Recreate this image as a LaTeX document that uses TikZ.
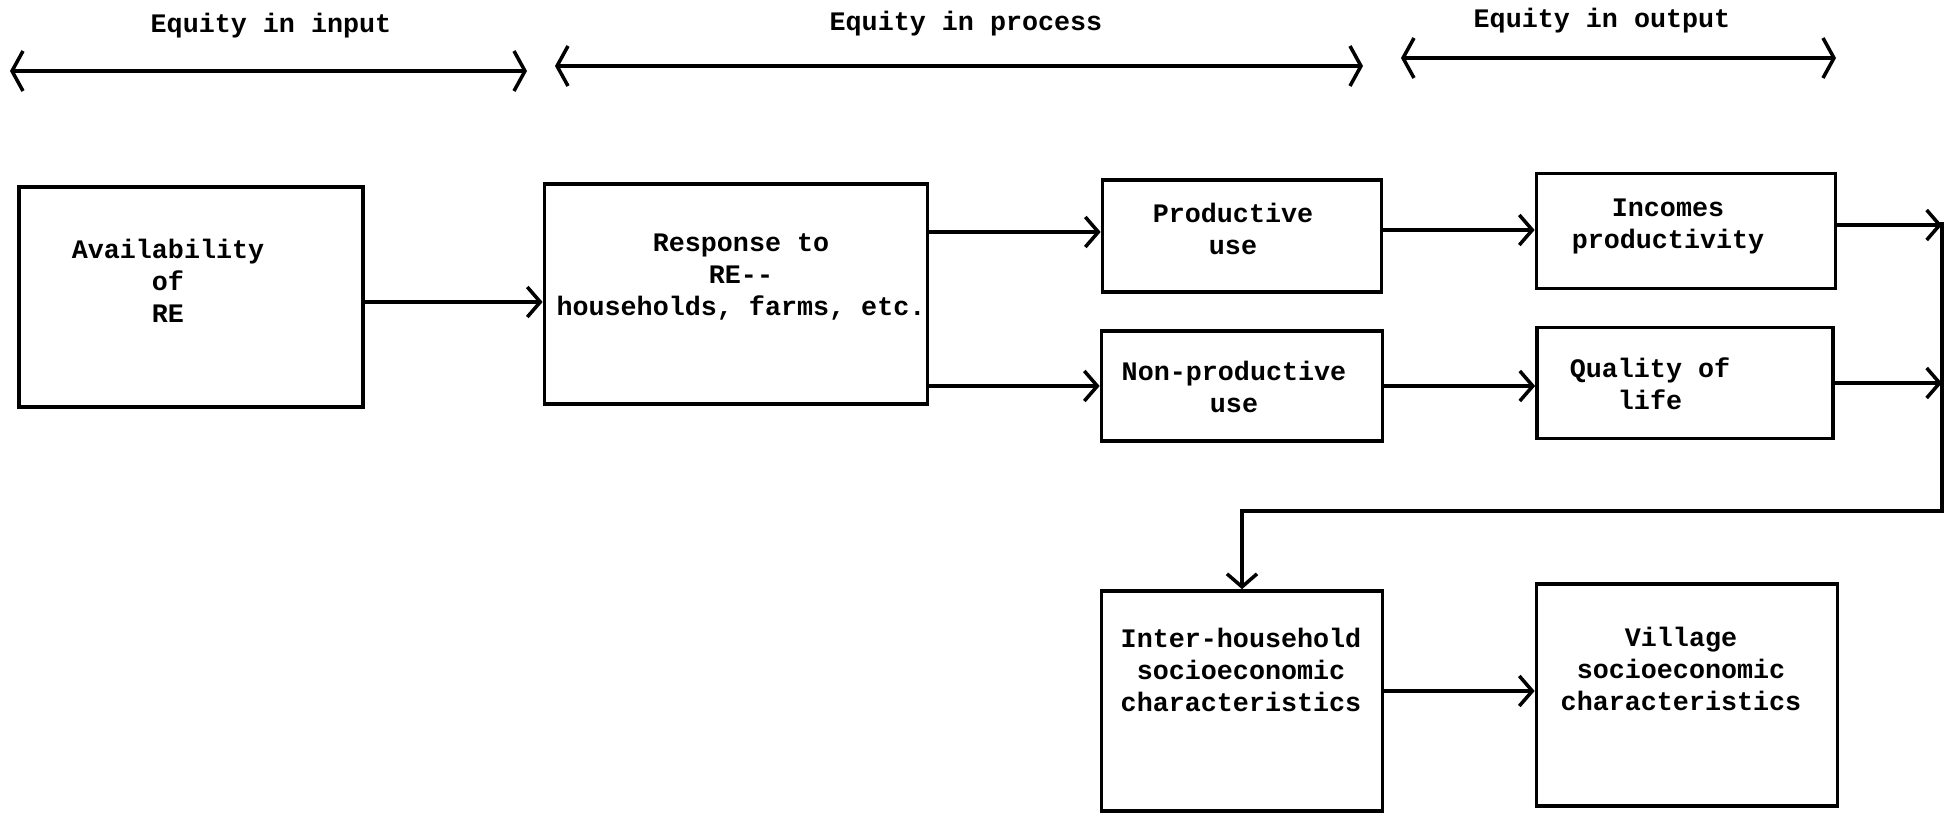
\documentclass[tikz,border=0pt]{standalone}
\usepackage{fontspec}
\setmonofont{Liberation Mono}
\usetikzlibrary{arrows.meta}

\begin{document}
\begin{tikzpicture}[x=0.01cm,y=-0.01cm,
  font=\ttfamily\bfseries\fontsize{7.6}{9.1}\selectfont,
  >={Straight Barb[length=1.3mm,width=3mm]},
  box/.style={draw,line width=1pt,inner sep=0pt},
  txt/.style={align=center,inner sep=0pt},
  conn/.style={->,line width=1pt},
  span/.style={<->,line width=1pt,>={Straight Barb[length=1.1mm,width=4mm]}}]
  \useasboundingbox (0,0) rectangle (1950,815);
  % equity spans along the top
  \coordinate (in-l) at (10,71);   \coordinate (in-r) at (527,71);
  \coordinate (pr-l) at (555,66);  \coordinate (pr-r) at (1363,66);
  \coordinate (out-l) at (1401,58); \coordinate (out-r) at (1836,58);
  \draw[span] (in-l) -- (in-r);
  \draw[span] (pr-l) -- (pr-r);
  \draw[span] (out-l) -- (out-r);
  \node[txt] (in-t) at (271,26) {Equity in input};
  \node[txt] (pr-t) at (966,24) {Equity in process};
  \node[txt] (out-t) at (1602,21) {Equity in output};
  % boxes
  \node[box,minimum width=3.44cm,minimum height=2.2cm] (avail) at (191,297) {};
  \node[box,minimum width=3.83cm,minimum height=2.2cm] (resp) at (736,294) {};
  \node[box,minimum width=2.79cm,minimum height=1.12cm] (prod) at (1242,236) {};
  \node[box,minimum width=2.81cm,minimum height=1.1cm] (nonprod) at (1242,386) {};
  \node[box,minimum width=2.99cm,minimum height=1.15cm] (inc) at (1686,231) {};
  \node[box,minimum width=2.96cm,minimum height=1.11cm] (qual) at (1685,383) {};
  \node[box,minimum width=2.81cm,minimum height=2.2cm] (inter) at (1242,701) {};
  \node[box,minimum width=3.01cm,minimum height=2.22cm] (vill) at (1687,695) {};
  % box texts
  \node[txt] (avail-t) at (168,281) {Availability\\of\\RE};
  \node[txt] (resp-t) at (741,277) {Response to\\RE--\\households, farms, etc.};
  \node[txt] (prod-t) at (1233,229) {Productive\\use};
  \node[txt] (nonprod-t) at (1234,387) {Non-productive\\use};
  \node[txt] (inc-t) at (1668,226) {Incomes\\productivity};
  \node[txt] (qual-t) at (1650,384) {Quality of\\life};
  \node[txt] (inter-t) at (1241,670) {Inter-household\\socioeconomic\\characteristics};
  \node[txt] (vill-t) at (1681,669) {Village\\socioeconomic\\characteristics};
  % connectors
  \coordinate (rtop) at (1942,222);
  \coordinate (rbot) at (1942,511);
  \draw[conn] ([yshift=-0.5mm]avail.east) -- ([yshift=-0.5mm]avail.east -| resp.west);
  \draw[conn] ([yshift=0.4mm]resp.east |- prod.west) -- ([yshift=0.4mm]prod.west);
  \draw[conn] (resp.east |- nonprod.west) -- (nonprod.west);
  \draw[conn] ([yshift=0.6mm]prod.east) -- ([yshift=0.6mm]prod.east -| inc.west);
  \draw[conn] (nonprod.east) -- (nonprod.east -| qual.west);
  \draw[conn] ([yshift=0.6mm]inc.east) -- ([yshift=0.6mm]inc.east -| rtop);
  \draw[conn] (qual.east) -- (qual.east -| rtop);
  \draw[conn] (rtop) -- (rbot) -| (inter.north);
  \draw[conn] ([yshift=1mm]inter.east) -- ([yshift=1mm]inter.east -| vill.west);
\end{tikzpicture}
\end{document}
